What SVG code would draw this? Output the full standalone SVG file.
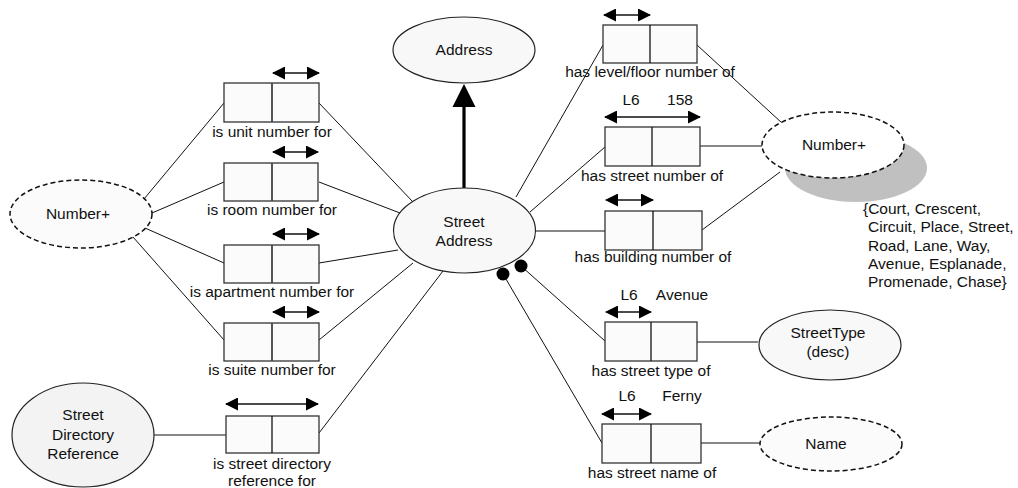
<svg xmlns="http://www.w3.org/2000/svg" width="1018" height="488" viewBox="0 0 1018 488">
<defs>
<marker id="ah" markerUnits="userSpaceOnUse" markerWidth="13" markerHeight="13" viewBox="0 0 13 13" refX="12" refY="6.5" orient="auto-start-reverse"><path d="M0,0 L13,6.5 L0,13 z" fill="#000"/></marker>
<style>
text{font-family:"Liberation Sans",Arial,sans-serif;font-size:15.5px;fill:#111;text-anchor:middle}
.lab{font-size:15.5px}
.ell{fill:#f8f8f8;stroke:#222;stroke-width:1.2}
.dash{fill:#fbfbfb;stroke:#111;stroke-width:1.5;stroke-dasharray:5,3}
.box{fill:#fbfbfb;stroke:#333;stroke-width:1.3}
.div{stroke:#444;stroke-width:1.8}
.con{stroke:#111;stroke-width:1;fill:none}
.dbl{stroke:#111;stroke-width:1.3;marker-start:url(#ah);marker-end:url(#ah)}
.blk{text-anchor:start}
</style>
</defs>
<rect width="1018" height="488" fill="#fff"/>

<g id="connectors">
<line class="con" x1="144" y1="199" x2="224" y2="103"/>
<line class="con" x1="152" y1="213" x2="224" y2="182"/>
<line class="con" x1="145" y1="228" x2="224" y2="263"/>
<line class="con" x1="133" y1="237" x2="224" y2="340"/>
<line class="con" x1="319" y1="103" x2="413" y2="202"/>
<line class="con" x1="319" y1="182" x2="400" y2="213"/>
<line class="con" x1="319" y1="263" x2="398" y2="250"/>
<line class="con" x1="319" y1="340" x2="413" y2="263"/>
<line class="con" x1="319" y1="433" x2="443" y2="271"/>
<line class="con" x1="154" y1="435" x2="226" y2="435"/>
<line class="con" x1="516" y1="197" x2="603" y2="45"/>
<line class="con" x1="530" y1="212" x2="605" y2="147"/>
<line class="con" x1="536" y1="231" x2="605" y2="231"/>
<line class="con" x1="521" y1="266" x2="605" y2="341"/>
<line class="con" x1="503" y1="274" x2="602" y2="443"/>
<line class="con" x1="697" y1="45" x2="782" y2="123"/>
<line class="con" x1="700" y1="146" x2="762" y2="146"/>
<line class="con" x1="702" y1="230" x2="780" y2="172"/>
<line class="con" x1="697" y1="342" x2="758" y2="342"/>
<line class="con" x1="701" y1="443" x2="760" y2="443"/>
<line x1="464" y1="188" x2="464" y2="104" stroke="#000" stroke-width="3.2"/>
<polygon points="464,84 452.5,107 475.5,107" fill="#000"/>
<circle cx="503" cy="274" r="6.5" fill="#000"/>
<circle cx="521" cy="266" r="6.5" fill="#000"/>
</g>

<g id="address">
<ellipse class="ell" cx="464" cy="50" rx="71" ry="33"/>
<text x="464" y="55">Address</text>
</g>

<g id="street-address">
<ellipse class="ell" cx="464.5" cy="230.5" rx="71" ry="42.5"/>
<text x="464" y="227">Street</text>
<text x="464" y="246">Address</text>
</g>

<g id="number-left">
<ellipse class="dash" cx="81" cy="214" rx="71" ry="34"/>
<text x="78" y="219">Number+</text>
</g>

<g id="street-directory-reference">
<ellipse class="ell" cx="83" cy="435" rx="71" ry="52" fill="#f3f3f3" style="fill:#f3f3f3"/>
<text x="83" y="420">Street</text>
<text x="83" y="440">Directory</text>
<text x="83" y="459">Reference</text>
</g>

<g id="unit">
<line class="dbl" x1="273" y1="73" x2="319" y2="73"/>
<rect class="box" x="224" y="83" width="95" height="39"/>
<line class="div" x1="272" y1="83" x2="272" y2="122"/>
<text x="272" y="137">is unit number for</text>
</g>

<g id="room">
<line class="dbl" x1="273" y1="152" x2="318" y2="152"/>
<rect class="box" x="224" y="163" width="94" height="38"/>
<line class="div" x1="272" y1="163" x2="272" y2="201"/>
<text x="272" y="215">is room number for</text>
</g>

<g id="apartment">
<line class="dbl" x1="273" y1="234" x2="319" y2="234"/>
<rect class="box" x="224" y="245" width="95" height="38"/>
<line class="div" x1="272" y1="245" x2="272" y2="283"/>
<text x="272" y="297">is apartment number for</text>
</g>

<g id="suite">
<line class="dbl" x1="273" y1="312" x2="319" y2="312"/>
<rect class="box" x="224" y="323" width="95" height="38"/>
<line class="div" x1="272" y1="323" x2="272" y2="361"/>
<text x="272" y="375">is suite number for</text>
</g>

<g id="street-directory">
<line class="dbl" x1="226" y1="404" x2="318" y2="404"/>
<rect class="box" x="226" y="416" width="93" height="37"/>
<line class="con" x1="272" y1="416" x2="272" y2="453" style="stroke-width:1.3"/>
<text x="272" y="469">is street directory</text>
<text x="272" y="486">reference for</text>
</g>

<g id="level">
<line class="dbl" x1="604" y1="15" x2="650" y2="15"/>
<rect class="box" x="603" y="25" width="94" height="38"/>
<line class="con" x1="650" y1="25" x2="650" y2="63" style="stroke-width:1.3"/>
<text x="650" y="77">has level/floor number of</text>
</g>

<g id="street-number">
<text x="631" y="105">L6</text>
<text x="680" y="105">158</text>
<line class="dbl" x1="605" y1="117" x2="700" y2="117"/>
<rect class="box" x="605" y="127" width="95" height="39"/>
<line class="con" x1="652" y1="127" x2="652" y2="166" style="stroke-width:1.3"/>
<text x="652" y="181">has street number of</text>
</g>

<g id="building">
<line class="dbl" x1="606" y1="200" x2="653" y2="200"/>
<rect class="box" x="605" y="211" width="97" height="39"/>
<line class="con" x1="653" y1="211" x2="653" y2="250" style="stroke-width:1.3"/>
<text x="653" y="262">has building number of</text>
</g>

<g id="number-right">
<ellipse cx="856" cy="168" rx="71" ry="34" fill="#c0c0c0"/>
<ellipse class="dash" cx="833" cy="145" rx="71" ry="33" style="fill:#fff"/>
<text x="834" y="150">Number+</text>
</g>

<g id="value-list">
<text class="blk" x="863" y="214">{Court, Crescent,</text>
<text class="blk" x="868" y="232">Circuit, Place, Street,</text>
<text class="blk" x="868" y="251">Road, Lane, Way,</text>
<text class="blk" x="868" y="269">Avenue, Esplanade,</text>
<text class="blk" x="868" y="287">Promenade, Chase}</text>
</g>

<g id="street-type">
<text x="629" y="300">L6</text>
<text x="682" y="300">Avenue</text>
<line class="dbl" x1="606" y1="312" x2="651" y2="312"/>
<rect class="box" x="605" y="322" width="92" height="39"/>
<line class="con" x1="651" y1="322" x2="651" y2="361" style="stroke-width:1.3"/>
<text x="651" y="376">has street type of</text>
</g>

<g id="streettype-desc">
<ellipse class="ell" cx="830" cy="345" rx="71" ry="35"/>
<text x="828" y="338">StreetType</text>
<text x="828" y="357">(desc)</text>
</g>

<g id="street-name">
<text x="627" y="401">L6</text>
<text x="682" y="401">Ferny</text>
<line class="dbl" x1="602" y1="414" x2="651" y2="414"/>
<rect class="box" x="602" y="424" width="99" height="39"/>
<line class="con" x1="651" y1="424" x2="651" y2="463" style="stroke-width:1.3"/>
<text x="652" y="478">has street name of</text>
</g>

<g id="name">
<ellipse class="dash" cx="831" cy="444" rx="71" ry="27"/>
<text x="826" y="449">Name</text>
</g>
</svg>
